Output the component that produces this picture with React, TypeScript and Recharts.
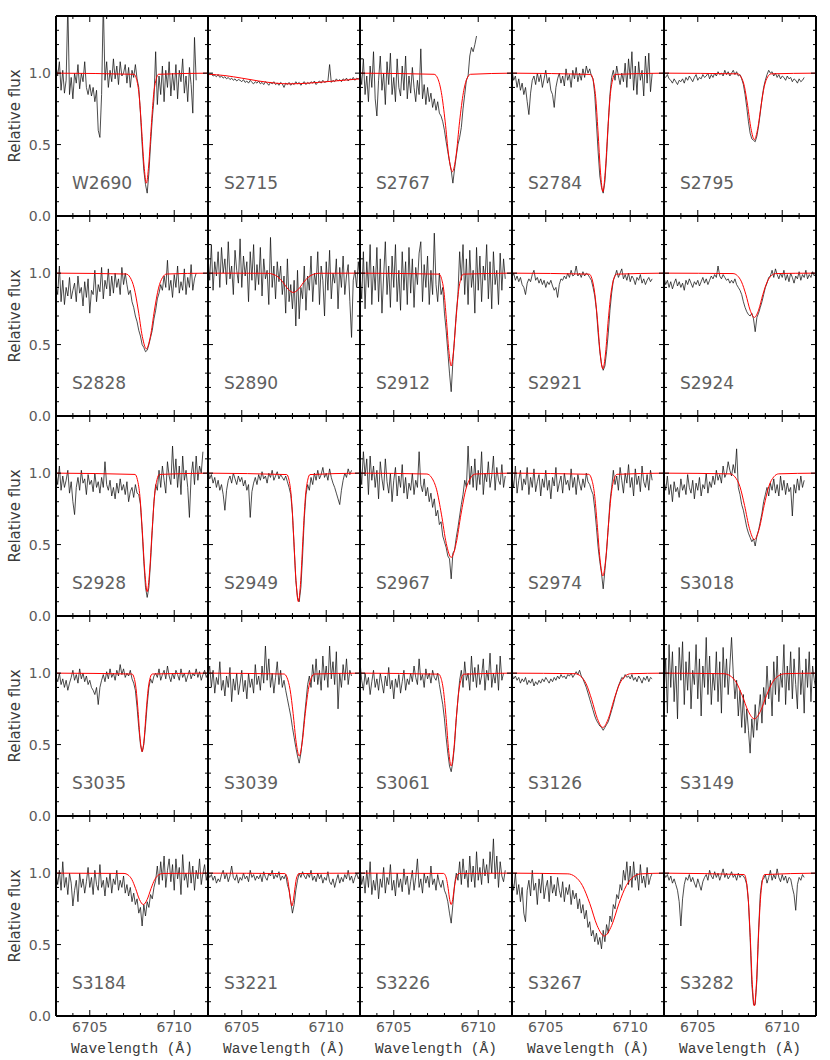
import React from 'react';
import { LineChart, Line, XAxis, YAxis } from 'recharts';

// Wavelength grid of the observed spectra (Å)
const WAVELENGTHS = [
  6703.0, 6703.1, 6703.2, 6703.3, 6703.4, 6703.5, 6703.6, 6703.7, 6703.8, 6703.9,
  6704.0, 6704.1, 6704.2, 6704.3, 6704.4, 6704.5, 6704.6, 6704.7, 6704.8, 6704.9,
  6705.0, 6705.1, 6705.2, 6705.3, 6705.4, 6705.5, 6705.6, 6705.7, 6705.8, 6705.9,
  6706.0, 6706.1, 6706.2, 6706.3, 6706.4, 6706.5, 6706.6, 6706.7, 6706.8, 6706.9,
  6707.0, 6707.1, 6707.2, 6707.3, 6707.4, 6707.5, 6707.6, 6707.7, 6707.8, 6707.9,
  6708.0, 6708.1, 6708.2, 6708.3, 6708.4, 6708.5, 6708.6, 6708.7, 6708.8, 6708.9,
  6709.0, 6709.1, 6709.2, 6709.3, 6709.4, 6709.5, 6709.6, 6709.7, 6709.8, 6709.9,
  6710.0, 6710.1, 6710.2, 6710.3, 6710.4, 6710.5, 6710.6, 6710.7, 6710.8, 6710.9,
  6711.0, 6711.1, 6711.2, 6711.3, 6711.4, 6711.5, 6711.6, 6711.7, 6711.8, 6711.9,
  6712.0,
];

const STAR_NAMES = [
  'W2690', 'S2715', 'S2767', 'S2784', 'S2795',
  'S2828', 'S2890', 'S2912', 'S2921', 'S2924',
  'S2928', 'S2949', 'S2967', 'S2974', 'S3018',
  'S3035', 'S3039', 'S3061', 'S3126', 'S3149',
  'S3184', 'S3221', 'S3226', 'S3267', 'S3282',
];

const X_TICKS = [6704, 6705, 6706, 6707, 6708, 6709, 6710, 6711];
const X_TICK_LABELS = [6705, 6710];
const Y_TICKS = [0, 0.1, 0.2, 0.3, 0.4, 0.5, 0.6, 0.7, 0.8, 0.9, 1.0, 1.1, 1.2, 1.3];
const Y_TICK_LABELS = [0, 0.5, 1.0];

// Observed relative flux (black)
const FLUX_W2690 = [1.05,0.98,1.08,0.88,1.02,0.86,0.95,1.48,0.85,0.97,0.82,1.0,0.93,1.06,0.89,1.0,0.94,1.08,0.9,0.85,0.92,0.84,0.9,0.8,0.88,0.6,0.55,0.85,1.5,0.95,1.08,0.9,1.02,0.94,1.1,0.96,1.05,0.92,1.08,0.98,1.0,1.06,0.93,1.04,0.9,1.02,0.97,1.06,0.96,0.9,0.72,0.5,0.32,0.22,0.16,0.3,0.5,0.68,0.82,1.15,0.78,0.98,0.85,1.05,0.8,1.02,0.9,1.08,0.84,1.0,0.88,1.06,0.82,1.02,0.94,1.1,0.86,0.98,0.8,1.04,0.92,0.72,1.25,0.95];
const FLUX_S2715 = [1.0,0.99,0.995,0.98,0.985,0.975,0.99,0.97,0.98,0.965,0.975,0.96,0.97,0.955,0.965,0.95,0.96,0.945,0.955,0.95,0.94,0.955,0.935,0.945,0.93,0.95,0.935,0.925,0.94,0.93,0.945,0.925,0.935,0.92,0.94,0.93,0.915,0.935,0.925,0.94,0.92,0.93,0.915,0.935,0.925,0.9,0.93,0.92,0.935,0.915,0.93,0.92,0.94,0.925,0.935,0.915,0.93,0.94,0.92,0.935,0.925,0.94,0.93,0.945,0.92,0.935,0.945,0.93,0.95,0.935,0.94,0.945,1.06,0.935,0.95,0.94,0.96,0.945,0.955,0.94,0.96,0.95,0.965,0.945,0.96,0.955,0.97,0.95,0.965,0.96,0.97];
const FLUX_S2767 = [1.02,0.92,1.1,0.85,0.98,0.8,1.05,0.9,1.15,0.82,0.7,0.95,1.12,0.88,1.0,0.78,1.08,0.92,1.14,0.85,0.97,0.8,1.1,0.9,0.84,1.05,0.88,1.12,0.82,0.98,0.86,1.04,0.9,0.8,0.95,0.85,1.17,0.82,0.92,0.78,0.9,0.8,0.86,0.76,0.82,0.74,0.8,0.72,0.7,0.66,0.6,0.52,0.45,0.38,0.32,0.23,0.33,0.42,0.5,0.55,0.62,0.75,0.85,0.95,0.98,1.12,1.18,1.15,1.2,1.26];
const FLUX_S2784 = [1.02,0.95,0.98,0.9,0.96,0.88,0.93,0.85,0.9,0.8,0.71,0.86,0.95,0.98,0.92,1.0,0.94,0.99,0.9,0.96,1.02,0.93,0.97,0.88,0.85,0.76,0.9,0.96,1.0,0.93,0.98,0.91,1.03,0.95,0.99,0.9,1.02,0.96,1.04,0.94,1.0,0.95,1.03,0.97,1.05,1.0,1.03,0.98,0.96,0.85,0.65,0.45,0.28,0.2,0.16,0.24,0.42,0.65,0.85,0.97,1.02,0.95,1.05,0.98,0.92,1.0,0.94,1.07,0.9,1.1,0.96,1.15,0.88,1.05,0.85,1.08,0.95,1.02,0.84,1.12,0.93,1.14,0.87,1.0];
const FLUX_S2795 = [0.98,0.97,0.99,0.96,0.95,0.93,0.96,0.94,0.92,0.95,0.94,0.96,0.93,0.97,0.95,0.98,0.96,0.94,0.97,0.99,0.95,0.97,0.96,0.99,0.97,0.98,1.0,0.96,0.99,0.97,1.0,0.98,1.01,0.99,1.0,0.98,1.02,0.99,1.01,0.98,1.0,1.02,0.99,1.01,0.98,0.99,0.96,0.92,0.85,0.76,0.66,0.58,0.54,0.53,0.52,0.56,0.63,0.72,0.82,0.9,0.95,0.99,1.02,1.0,1.01,0.98,1.0,0.97,0.99,0.96,0.98,0.97,0.95,0.98,0.96,0.97,0.94,0.96,0.95,0.93,0.96,0.94,0.95,0.97];
const FLUX_S2828 = [0.92,0.85,1.05,0.8,0.95,0.78,0.9,0.84,0.97,0.82,0.88,0.93,0.8,0.98,0.86,0.9,0.77,0.94,0.83,0.96,0.72,0.88,0.85,1.02,0.8,0.92,0.87,1.04,0.82,0.95,0.89,1.03,0.84,0.98,0.86,1.0,0.9,0.96,0.85,1.04,0.92,1.0,0.92,0.85,0.88,0.8,0.76,0.7,0.66,0.6,0.56,0.5,0.48,0.45,0.46,0.5,0.55,0.6,0.68,0.74,0.82,0.86,0.92,0.88,0.98,0.9,1.09,0.88,0.95,0.83,0.99,0.9,1.05,0.86,0.94,0.88,1.03,0.85,0.97,0.9,1.06,0.88,0.96,1.0];
const FLUX_S2890 = [1.12,0.95,1.2,0.88,1.08,0.98,1.15,0.9,1.18,1.0,1.1,0.92,1.22,0.96,1.05,0.85,1.16,1.02,0.93,1.24,0.9,1.12,0.98,1.08,0.8,1.15,0.95,1.2,0.88,1.06,0.92,1.18,0.84,1.1,0.96,1.02,0.78,1.25,0.9,1.05,0.82,1.08,0.94,1.05,0.85,0.98,0.72,1.1,0.8,0.92,0.75,0.95,0.63,1.02,0.68,0.9,0.82,1.05,0.74,0.98,0.88,1.12,0.8,1.0,0.92,1.15,0.78,1.05,0.95,0.7,1.08,0.88,1.16,0.82,1.0,0.93,1.1,0.75,1.04,0.9,1.12,0.85,0.98,1.06,0.8,0.55,0.95,1.02,0.9,1.08,0.96];
const FLUX_S2912 = [1.0,0.82,1.15,0.75,1.08,0.9,1.2,0.78,1.05,0.88,1.18,0.8,1.1,0.72,0.98,1.22,0.85,1.05,0.76,1.12,0.9,1.2,0.8,1.02,0.74,1.15,0.88,1.08,0.78,1.18,0.86,1.1,0.76,1.04,0.92,1.14,1.22,0.8,1.06,0.9,1.12,0.78,1.02,0.85,1.28,0.92,0.8,1.0,0.85,0.9,0.72,0.6,0.45,0.3,0.17,0.38,0.55,0.72,0.85,1.15,0.95,1.2,0.85,1.1,0.78,1.16,0.9,1.02,0.72,1.18,0.88,1.12,0.8,1.05,0.95,1.2,0.82,1.08,0.75,1.15,0.92,1.02,0.78,1.14,0.88,1.1,0.96];
const FLUX_S2921 = [0.97,1.0,0.95,0.98,0.94,0.97,0.92,0.9,0.85,0.93,0.96,0.94,0.99,1.02,0.95,0.97,0.93,0.96,0.92,0.95,0.9,0.94,0.92,0.95,0.91,0.88,0.9,0.83,0.92,0.96,0.95,0.98,0.96,1.0,0.97,1.02,0.98,0.99,1.05,0.98,1.0,0.97,1.01,0.98,1.0,0.99,0.97,0.95,0.9,0.84,0.74,0.58,0.45,0.36,0.32,0.35,0.45,0.58,0.74,0.86,0.95,0.98,1.02,0.97,1.0,1.03,0.96,0.99,0.95,1.0,0.94,0.98,0.96,0.92,0.97,0.95,0.99,0.93,0.96,0.92,0.95,0.97,0.94,0.96];
const FLUX_S2924 = [0.97,0.92,0.95,0.9,0.94,0.89,0.93,0.96,0.91,0.94,0.9,0.93,0.88,0.95,0.92,0.96,0.93,0.9,0.94,0.92,0.95,0.91,0.94,0.97,0.93,0.96,0.92,0.95,0.98,0.96,0.99,0.97,1.05,0.98,0.96,0.99,0.97,0.95,0.96,0.93,0.95,0.93,0.96,0.92,0.9,0.88,0.85,0.8,0.76,0.73,0.71,0.7,0.72,0.68,0.59,0.69,0.72,0.76,0.8,0.85,0.9,0.93,0.97,0.98,1.02,0.97,1.03,0.99,0.96,1.0,0.97,1.02,0.95,0.99,0.94,1.0,0.97,0.93,0.98,0.96,1.01,0.95,0.99,0.97,1.02,0.96,0.99,0.97,1.01,0.98,1.0];
const FLUX_S2928 = [1.0,0.92,1.05,0.88,0.98,0.9,0.95,1.02,0.86,0.94,0.8,0.71,0.9,0.97,0.88,1.02,0.93,0.96,0.85,0.99,0.92,0.95,0.87,1.0,0.9,0.94,0.86,0.97,0.9,1.08,0.92,0.88,0.95,0.84,0.9,0.82,0.93,0.86,0.96,0.88,0.92,0.85,0.94,0.8,0.87,0.9,0.83,0.92,0.86,0.85,0.78,0.6,0.38,0.2,0.13,0.2,0.38,0.6,0.8,0.92,0.88,1.02,0.9,1.05,0.95,0.86,1.08,0.98,0.92,1.19,0.96,1.1,0.9,1.05,0.85,1.12,0.95,1.02,0.9,0.69,0.98,1.08,0.92,1.12,0.95,1.05,1.0,1.15];
const FLUX_S2949 = [1.02,0.96,0.99,0.93,0.97,0.9,0.95,0.88,0.92,0.85,0.74,0.88,0.95,0.98,0.93,1.0,0.96,0.92,0.98,0.94,0.97,0.91,0.95,0.88,0.92,0.69,0.87,0.93,0.97,0.92,0.99,0.95,1.01,0.96,0.98,0.93,1.0,0.97,1.02,0.95,0.98,1.01,0.96,0.99,0.97,0.95,0.98,0.94,0.9,0.85,0.72,0.48,0.25,0.13,0.1,0.2,0.42,0.68,0.85,0.92,0.88,0.97,0.92,1.0,0.95,1.02,0.96,0.99,1.04,0.97,1.0,0.95,1.03,0.97,0.93,0.9,0.86,0.82,0.78,0.88,0.95,1.0,0.97,1.03,0.99,1.02];
const FLUX_S2967 = [1.08,0.92,1.15,0.98,1.1,0.85,1.12,0.95,1.05,0.9,1.02,0.82,1.08,0.96,0.88,1.1,0.94,0.86,1.0,0.8,0.95,1.04,0.84,0.98,0.9,1.06,0.86,0.97,0.82,0.93,0.88,1.0,0.85,0.95,0.9,1.15,0.92,0.87,0.96,0.84,0.9,0.8,0.86,0.76,0.82,0.7,0.74,0.64,0.66,0.56,0.52,0.48,0.42,0.4,0.26,0.44,0.46,0.55,0.62,0.7,0.78,0.85,0.95,0.9,1.19,0.92,1.05,0.9,1.1,0.88,1.02,0.92,1.15,0.85,1.0,0.94,1.08,0.9,0.98,1.12,0.88,1.04,0.95,0.92,1.06,0.9,0.98];
const FLUX_S2974 = [0.98,0.9,1.05,0.86,0.95,1.02,0.88,0.96,0.92,1.04,0.85,0.97,0.9,1.03,0.87,0.94,0.99,0.84,0.96,0.9,1.02,0.88,0.95,0.82,0.97,0.91,1.04,0.87,0.93,0.98,0.86,1.0,0.92,0.95,0.88,1.03,0.9,0.97,0.85,0.99,0.93,0.88,0.96,0.9,1.0,0.94,0.92,0.88,0.85,0.75,0.62,0.48,0.38,0.3,0.19,0.32,0.45,0.62,0.8,0.9,1.02,0.92,0.98,0.88,1.04,0.95,0.86,1.0,0.93,1.06,0.9,0.97,0.84,1.03,0.92,0.98,0.87,1.05,0.94,0.9,0.99,0.88,1.02,0.95];
const FLUX_S3018 = [0.95,0.88,0.98,0.85,0.92,0.8,0.94,0.87,0.9,0.83,0.96,0.88,0.92,0.85,0.99,0.9,0.86,0.95,0.82,0.93,0.88,0.97,0.84,0.92,0.89,1.0,0.86,0.94,0.9,0.98,0.92,1.02,0.95,0.99,0.93,1.05,0.97,1.0,1.08,1.02,0.98,1.06,1.0,1.17,0.9,0.85,0.78,0.74,0.68,0.62,0.58,0.55,0.52,0.54,0.49,0.56,0.6,0.66,0.72,0.8,0.85,0.9,0.84,0.93,0.88,0.96,0.86,0.92,0.84,0.98,0.88,0.95,0.85,0.93,0.87,0.9,0.7,0.92,0.86,0.96,0.88,0.98,0.9,0.95];
const FLUX_S3035 = [0.98,0.94,1.0,0.92,0.96,0.9,0.95,0.88,0.93,0.97,1.02,0.95,0.99,0.93,1.03,0.96,1.0,0.94,0.98,0.92,0.95,0.9,0.88,0.85,0.9,0.78,0.9,0.95,0.99,0.94,1.01,0.96,1.03,0.97,1.0,0.95,1.02,0.98,1.06,0.99,1.03,0.97,1.0,0.98,1.02,0.96,0.93,0.88,0.76,0.62,0.5,0.45,0.5,0.63,0.78,0.9,0.96,0.93,0.98,1.0,0.97,1.03,0.95,0.99,1.02,0.96,1.05,0.98,0.94,1.0,0.96,1.02,0.99,0.95,1.03,0.97,1.0,0.94,0.98,1.02,0.96,1.0,0.98,1.03,0.97,1.01,0.95,0.99,1.02,0.97,1.0];
const FLUX_S3039 = [0.98,1.05,0.9,1.02,0.86,0.97,0.92,1.08,0.88,0.95,0.84,0.98,0.9,1.04,0.8,0.96,0.88,1.0,0.85,0.93,1.02,0.87,0.95,0.82,1.0,0.9,0.96,0.86,1.06,0.92,0.98,0.88,1.05,0.93,1.19,0.95,1.1,0.9,1.0,0.86,0.97,1.08,0.92,1.02,0.9,0.95,0.88,0.82,0.76,0.7,0.62,0.55,0.48,0.42,0.37,0.44,0.55,0.68,0.8,0.92,0.98,0.9,1.06,0.94,1.1,0.92,1.02,0.88,1.12,0.95,1.05,0.9,1.19,0.96,1.08,0.92,1.15,0.75,1.0,0.9,1.06,0.95,1.1,0.92,1.02,0.98];
const FLUX_S3061 = [1.08,0.95,0.88,1.0,0.92,0.97,0.85,0.94,1.02,0.9,0.96,0.88,1.0,0.93,0.86,0.98,0.91,1.04,0.89,0.95,0.82,0.96,0.9,0.99,0.86,0.94,1.02,0.88,0.96,0.92,1.0,0.94,1.05,0.97,0.92,1.1,0.95,0.99,0.9,1.03,0.96,1.0,0.93,1.02,0.97,0.95,1.0,0.92,0.85,0.78,0.68,0.55,0.44,0.35,0.31,0.38,0.5,0.68,0.82,0.95,1.02,0.9,1.08,0.95,1.0,0.88,1.12,0.94,1.04,0.9,1.06,0.92,0.98,1.1,0.88,1.02,0.95,1.14,0.9,1.0,0.93,1.06,0.88,1.12,0.95,1.0];
const FLUX_S3126 = [0.99,0.96,0.98,0.95,0.97,0.93,0.96,0.94,0.97,0.92,0.95,0.93,0.96,0.91,0.94,0.92,0.95,0.93,0.96,0.94,0.97,0.95,0.93,0.96,0.94,0.97,0.95,0.98,0.96,0.99,0.97,0.98,0.96,0.99,0.98,1.0,0.97,0.99,1.01,0.99,1.02,0.98,0.96,0.93,0.9,0.86,0.82,0.78,0.74,0.7,0.67,0.65,0.63,0.62,0.6,0.62,0.64,0.66,0.7,0.74,0.78,0.83,0.87,0.91,0.94,0.97,0.96,0.99,0.97,0.98,0.96,0.99,0.95,0.97,0.94,0.98,0.96,0.93,0.97,0.95,0.98,0.94,0.97,0.96];
const FLUX_S3149 = [0.85,1.1,0.72,1.2,0.9,1.15,0.8,1.05,0.68,1.18,0.95,1.22,0.78,1.08,0.88,1.15,0.75,1.02,0.92,1.2,0.82,1.1,0.7,1.05,0.9,1.25,0.85,1.12,0.78,1.0,0.88,1.15,0.8,1.08,0.72,1.18,0.9,1.1,0.85,1.05,1.25,1.0,0.82,0.95,0.7,0.88,0.62,0.85,0.58,0.75,0.6,0.44,0.68,0.55,0.78,0.6,0.72,0.85,0.65,0.9,0.78,1.05,0.82,0.95,0.7,1.08,0.85,1.12,0.8,1.0,0.9,1.2,0.78,1.05,0.88,1.15,0.82,1.1,0.92,0.75,1.18,0.85,1.02,0.72,1.1,0.9,1.15,0.8,1.05,0.95,0.88];
const FLUX_S3184 = [1.0,0.92,1.02,0.88,1.08,0.9,0.97,0.85,1.0,0.93,0.77,0.88,0.95,0.8,1.0,0.9,0.96,0.86,0.94,1.04,0.9,0.97,0.85,1.02,0.92,0.88,1.06,0.9,0.95,0.84,0.97,0.9,1.0,0.86,0.96,0.92,1.02,0.88,0.95,0.9,0.98,0.86,0.92,0.84,0.9,0.8,0.86,0.78,0.82,0.72,0.76,0.63,0.78,0.7,0.8,0.76,0.85,0.82,0.9,0.95,1.05,0.92,1.08,0.95,1.12,0.9,1.02,1.1,0.94,1.06,0.88,1.1,0.96,1.04,0.85,1.13,0.95,1.0,0.9,1.08,0.93,1.05,0.88,1.02,0.96,1.1,0.92,1.0,1.06,0.95,1.02];
const FLUX_S3221 = [1.0,0.97,0.99,0.95,0.98,0.93,0.96,0.94,0.99,1.02,0.96,1.0,0.94,0.98,1.05,0.97,0.95,0.99,0.93,0.97,0.95,1.0,0.96,0.98,0.94,1.02,0.97,0.99,0.95,0.98,0.96,0.99,0.94,1.01,0.97,0.95,1.0,0.98,1.02,0.96,0.99,0.97,1.01,0.95,0.98,0.96,0.99,0.92,0.88,0.8,0.72,0.78,0.88,0.95,1.0,0.97,1.01,0.98,0.96,1.0,0.97,1.02,0.95,0.98,0.94,1.0,0.96,0.99,0.93,0.97,0.95,1.01,0.94,0.92,0.96,0.9,0.95,0.99,0.93,0.97,0.94,0.99,0.96,1.02,0.95,0.98,0.93,0.97,1.0,0.96,0.99];
const FLUX_S3226 = [1.05,0.92,0.98,0.86,1.02,0.9,1.08,0.85,0.95,0.88,1.0,0.82,0.96,0.9,1.04,0.86,0.97,0.92,1.06,0.88,0.95,0.84,1.0,0.9,0.96,0.87,1.03,0.92,0.98,0.85,0.94,1.02,0.88,0.97,1.1,0.9,0.96,0.86,1.0,0.93,0.98,0.9,1.05,0.92,0.96,0.88,0.99,0.93,0.9,0.95,0.88,0.85,0.8,0.72,0.65,0.78,0.92,1.0,0.95,1.08,0.92,1.1,0.96,1.02,0.9,1.12,0.94,1.05,0.9,1.15,0.95,1.04,0.92,1.1,0.98,1.06,0.93,1.15,1.0,1.24,0.96,1.12,0.9,1.08,0.98,0.94,1.02];
const FLUX_S3267 = [0.95,0.88,1.0,0.85,0.92,0.8,0.9,0.72,0.66,0.88,0.95,0.84,1.02,0.88,0.93,0.78,0.96,0.86,1.0,0.82,0.9,0.95,0.8,0.98,0.86,0.92,0.84,0.97,0.88,0.83,0.94,0.8,0.9,0.85,0.92,0.78,0.88,0.82,0.86,0.75,0.82,0.72,0.78,0.68,0.74,0.62,0.66,0.56,0.6,0.52,0.58,0.5,0.55,0.47,0.6,0.52,0.64,0.58,0.7,0.66,0.78,0.75,0.85,0.82,0.92,0.88,1.02,0.95,1.08,0.92,1.05,0.9,1.08,0.95,1.0,0.88,1.06,0.93,0.98,0.9,1.04,0.92,0.97,1.0];
const FLUX_S3282 = [1.0,0.97,0.99,0.95,0.98,0.93,0.96,0.92,0.88,0.8,0.63,0.82,0.92,0.97,0.95,0.99,0.94,0.97,0.93,0.9,0.96,0.92,0.88,0.94,0.97,0.99,0.95,1.02,0.98,0.96,1.01,0.97,1.0,0.95,0.99,1.03,0.97,1.0,0.96,0.98,1.01,0.97,0.99,0.95,1.0,0.97,0.99,0.98,0.96,0.92,0.8,0.55,0.22,0.08,0.08,0.25,0.6,0.85,0.95,0.96,0.99,0.93,0.97,1.02,0.95,0.99,0.96,1.03,0.97,0.94,0.99,0.95,0.98,0.93,0.97,0.96,0.9,0.85,0.74,0.92,0.97,0.95,0.99,0.97];

// Fitted profiles (red), [wavelength, flux]
const FIT_W2690 = [[6703,1],[6707.63,0.992],[6707.77,0.957],[6707.92,0.848],[6708.06,0.625],[6708.21,0.357],[6708.35,0.23],[6708.49,0.357],[6708.64,0.625],[6708.78,0.848],[6708.93,0.957],[6709.07,0.992],[6712,1]];
const FIT_S2715 = [[6703,0.993],[6704,0.983],[6705,0.965],[6706,0.945],[6707,0.93],[6707.8,0.925],[6708.5,0.927],[6709.5,0.935],[6710.5,0.945],[6711.3,0.953],[6712,0.96]];
const FIT_S2767 = [[6703,1],[6707.39,0.992],[6707.61,0.961],[6707.82,0.863],[6708.04,0.664],[6708.25,0.424],[6708.47,0.31],[6708.69,0.424],[6708.9,0.664],[6709.12,0.863],[6709.33,0.961],[6709.55,0.992],[6712,1]];
const FIT_S2784 = [[6703,1],[6707.66,0.991],[6707.8,0.954],[6707.95,0.836],[6708.09,0.596],[6708.24,0.307],[6708.38,0.17],[6708.52,0.307],[6708.67,0.596],[6708.81,0.836],[6708.96,0.954],[6709.1,0.991],[6712,1]];
const FIT_S2795 = [[6703,1],[6707.36,0.995],[6707.56,0.974],[6707.76,0.908],[6707.95,0.774],[6708.15,0.612],[6708.35,0.535],[6708.55,0.612],[6708.75,0.774],[6708.94,0.908],[6709.14,0.974],[6709.34,0.995],[6712,1]];
const FIT_S2828 = [[6703,1],[6707.15,0.994],[6707.39,0.97],[6707.63,0.895],[6707.87,0.742],[6708.11,0.557],[6708.35,0.47],[6708.59,0.557],[6708.83,0.742],[6709.07,0.895],[6709.31,0.97],[6709.55,0.994],[6712,1]];
const FIT_S2890 = [[6703,1],[6706.55,0.999],[6706.85,0.992],[6707.15,0.973],[6707.45,0.934],[6707.75,0.887],[6708.05,0.865],[6708.35,0.887],[6708.65,0.934],[6708.95,0.973],[6709.25,0.992],[6709.55,0.999],[6712,1]];
const FIT_S2912 = [[6703,1],[6707.68,0.993],[6707.82,0.964],[6707.97,0.871],[6708.11,0.683],[6708.26,0.457],[6708.4,0.35],[6708.54,0.457],[6708.69,0.683],[6708.83,0.871],[6708.98,0.964],[6709.12,0.993],[6712,1]];
const FIT_S2921 = [[6703,1],[6707.57,0.993],[6707.73,0.962],[6707.89,0.867],[6708.06,0.674],[6708.22,0.441],[6708.38,0.33],[6708.54,0.441],[6708.7,0.674],[6708.87,0.867],[6709.03,0.962],[6709.19,0.993],[6712,1]];
const FIT_S2924 = [[6703,1],[6707.09,0.997],[6707.34,0.983],[6707.59,0.939],[6707.85,0.849],[6708.1,0.741],[6708.35,0.69],[6708.6,0.741],[6708.85,0.849],[6709.11,0.939],[6709.36,0.983],[6709.61,0.997],[6712,1]];
const FIT_S2928 = [[6703,1],[6707.68,0.991],[6707.82,0.954],[6707.97,0.836],[6708.11,0.596],[6708.26,0.307],[6708.4,0.17],[6708.54,0.307],[6708.69,0.596],[6708.83,0.836],[6708.98,0.954],[6709.12,0.991],[6712,1]];
const FIT_S2949 = [[6703,1],[6707.66,0.99],[6707.8,0.95],[6707.94,0.822],[6708.07,0.562],[6708.21,0.248],[6708.35,0.1],[6708.49,0.248],[6708.63,0.562],[6708.76,0.822],[6708.9,0.95],[6709.04,0.99],[6712,1]];
const FIT_S2967 = [[6703,1],[6706.96,0.994],[6707.25,0.967],[6707.54,0.883],[6707.82,0.713],[6708.11,0.507],[6708.4,0.41],[6708.69,0.507],[6708.98,0.713],[6709.26,0.883],[6709.55,0.967],[6709.84,0.994],[6712,1]];
const FIT_S2974 = [[6703,1],[6707.54,0.992],[6707.71,0.96],[6707.88,0.857],[6708.04,0.649],[6708.21,0.399],[6708.38,0.28],[6708.55,0.399],[6708.72,0.649],[6708.88,0.857],[6709.05,0.96],[6709.22,0.992],[6712,1]];
const FIT_S3018 = [[6703,1],[6706.91,0.995],[6707.2,0.974],[6707.49,0.908],[6707.77,0.774],[6708.06,0.612],[6708.35,0.535],[6708.64,0.612],[6708.93,0.774],[6709.21,0.908],[6709.5,0.974],[6709.79,0.995],[6712,1]];
const FIT_S3035 = [[6703,1],[6707.5,0.994],[6707.62,0.969],[6707.74,0.891],[6707.86,0.732],[6707.98,0.541],[6708.1,0.45],[6708.22,0.541],[6708.34,0.732],[6708.46,0.891],[6708.58,0.969],[6708.7,0.994],[6712,1]];
const FIT_S3039 = [[6703,1],[6707.5,0.994],[6707.68,0.968],[6707.86,0.885],[6708.04,0.718],[6708.22,0.516],[6708.4,0.42],[6708.58,0.516],[6708.76,0.718],[6708.94,0.885],[6709.12,0.968],[6709.3,0.994],[6712,1]];
const FIT_S3061 = [[6703,1],[6707.65,0.993],[6707.8,0.964],[6707.95,0.871],[6708.1,0.683],[6708.25,0.457],[6708.4,0.35],[6708.55,0.457],[6708.7,0.683],[6708.85,0.871],[6709.0,0.964],[6709.15,0.993],[6712,1]];
const FIT_S3126 = [[6703,1],[6706.73,0.996],[6707.06,0.979],[6707.39,0.925],[6707.72,0.815],[6708.05,0.683],[6708.38,0.62],[6708.71,0.683],[6709.04,0.815],[6709.37,0.925],[6709.7,0.979],[6710.03,0.996],[6712,1]];
const FIT_S3149 = [[6703,1],[6706.55,0.996],[6706.91,0.982],[6707.27,0.937],[6707.63,0.844],[6707.99,0.733],[6708.35,0.68],[6708.71,0.733],[6709.07,0.844],[6709.43,0.937],[6709.79,0.982],[6710.15,0.996],[6712,1]];
const FIT_S3184 = [[6703,1],[6707.03,0.998],[6707.26,0.988],[6707.49,0.956],[6707.71,0.893],[6707.94,0.816],[6708.17,0.78],[6708.4,0.816],[6708.63,0.893],[6708.85,0.956],[6709.08,0.988],[6709.31,0.998],[6712,1]];
const FIT_S3221 = [[6703,1],[6707.55,0.997],[6707.63,0.987],[6707.72,0.954],[6707.8,0.888],[6707.89,0.808],[6707.97,0.77],[6708.05,0.808],[6708.14,0.888],[6708.22,0.954],[6708.31,0.987],[6708.39,0.997],[6712,1]];
const FIT_S3226 = [[6703,1],[6707.95,0.998],[6708.04,0.988],[6708.13,0.956],[6708.22,0.893],[6708.31,0.816],[6708.4,0.78],[6708.49,0.816],[6708.58,0.893],[6708.67,0.956],[6708.76,0.988],[6708.85,0.998],[6712,1]];
const FIT_S3267 = [[6703,1],[6706.31,0.995],[6706.74,0.975],[6707.17,0.913],[6707.61,0.786],[6708.04,0.633],[6708.47,0.56],[6708.9,0.633],[6709.33,0.786],[6709.77,0.913],[6710.2,0.975],[6710.63,0.995],[6712,1]];
const FIT_S3282 = [[6703,1],[6707.75,0.99],[6707.87,0.948],[6707.99,0.816],[6708.11,0.547],[6708.23,0.223],[6708.35,0.07],[6708.47,0.223],[6708.59,0.547],[6708.71,0.816],[6708.83,0.948],[6708.95,0.99],[6712,1]];

const SPECTRA = [
  FLUX_W2690, FLUX_S2715, FLUX_S2767, FLUX_S2784, FLUX_S2795,
  FLUX_S2828, FLUX_S2890, FLUX_S2912, FLUX_S2921, FLUX_S2924,
  FLUX_S2928, FLUX_S2949, FLUX_S2967, FLUX_S2974, FLUX_S3018,
  FLUX_S3035, FLUX_S3039, FLUX_S3061, FLUX_S3126, FLUX_S3149,
  FLUX_S3184, FLUX_S3221, FLUX_S3226, FLUX_S3267, FLUX_S3282,
];
const FITS = [
  FIT_W2690, FIT_S2715, FIT_S2767, FIT_S2784, FIT_S2795,
  FIT_S2828, FIT_S2890, FIT_S2912, FIT_S2921, FIT_S2924,
  FIT_S2928, FIT_S2949, FIT_S2967, FIT_S2974, FIT_S3018,
  FIT_S3035, FIT_S3039, FIT_S3061, FIT_S3126, FIT_S3149,
  FIT_S3184, FIT_S3221, FIT_S3226, FIT_S3267, FIT_S3282,
];

// Layout
const PLOT_W = 152;
const PLOT_H = 200;
const GRID_LEFT = 56;
const GRID_TOP = 16;
const ML = 60, MR = 4, MT = 4, MB = 40;
const CHART_W = ML + 1 + PLOT_W + 1 + MR;
const CHART_H = MT + 1 + PLOT_H + 1 + MB;
const FONT = 'DejaVu Sans';
const TEXT_FILL = '#5a5a5a';

const isMajorY = (v: number) => Math.abs(v * 2 - Math.round(v * 2)) < 1e-6;

const bottomTick = (showLabel: boolean) => (props: any) => {
  const { x, y, payload } = props;
  const v = payload.value;
  const major = X_TICK_LABELS.includes(v);
  return (
    <g>
      <line x1={x} y1={y} x2={x} y2={y - (major ? 6 : 3)} stroke="#000" strokeWidth={1} />
      {showLabel && major ? (
        <text x={x} y={y + 16} textAnchor="middle" fontSize={14} fontFamily={FONT} fill={TEXT_FILL}>
          {v}
        </text>
      ) : null}
    </g>
  );
};

const topTick = (props: any) => {
  const { x, y, payload } = props;
  const major = X_TICK_LABELS.includes(payload.value);
  return <line x1={x} y1={y} x2={x} y2={y + (major ? 6 : 3)} stroke="#000" strokeWidth={1} />;
};

const leftTick = (showLabel: boolean) => (props: any) => {
  const { x, y, payload } = props;
  const v = payload.value;
  const major = isMajorY(v);
  return (
    <g>
      <line x1={x} y1={y} x2={x + (major ? 5 : 3)} y2={y} stroke="#000" strokeWidth={1} />
      {showLabel && Y_TICK_LABELS.some((t) => Math.abs(t - v) < 1e-6) ? (
        <text x={x - 5} y={y + 5} textAnchor="end" fontSize={14} fontFamily={FONT} fill={TEXT_FILL}>
          {v.toFixed(1)}
        </text>
      ) : null}
    </g>
  );
};

const rightTick = (props: any) => {
  const { x, y, payload } = props;
  const major = isMajorY(payload.value);
  return <line x1={x} y1={y} x2={x - (major ? 5 : 3)} y2={y} stroke="#000" strokeWidth={1} />;
};

const axisLine = { stroke: '#000', strokeWidth: 2 };

function Panel({ idx }: { idx: number }) {
  const row = Math.floor(idx / 5);
  const col = idx % 5;
  const plotLeft = GRID_LEFT + col * PLOT_W;
  const plotTop = GRID_TOP + row * PLOT_H;
  const obs = SPECTRA[idx].map((f, i) => ({ x: WAVELENGTHS[i], y: f }));
  const fit = FITS[idx].map(([x, y]) => ({ x, y }));
  return (
    <div style={{ position: 'absolute', left: plotLeft - ML - 1, top: plotTop - MT - 1 }}>
      <LineChart width={CHART_W} height={CHART_H} margin={{ top: MT, right: MR, bottom: MB, left: ML }}>
        <XAxis
          xAxisId="b" dataKey="x" type="number" domain={[6703, 6712]} allowDataOverflow
          ticks={X_TICKS} interval={0} height={1} tickSize={0} tickMargin={0}
          tickLine={false} axisLine={axisLine} tick={bottomTick(row === 4)}
        />
        <XAxis
          xAxisId="t" orientation="top" dataKey="x" type="number" domain={[6703, 6712]} allowDataOverflow
          ticks={X_TICKS} interval={0} height={1} tickSize={0} tickMargin={0}
          tickLine={false} axisLine={axisLine} tick={topTick}
        />
        <YAxis
          yAxisId="l" type="number" domain={[0, 1.4]} allowDataOverflow
          ticks={Y_TICKS} interval={0} width={1} tickSize={0} tickMargin={0}
          tickLine={false} axisLine={axisLine} tick={leftTick(col === 0)}
        />
        <YAxis
          yAxisId="r" orientation="right" type="number" domain={[0, 1.4]} allowDataOverflow
          ticks={Y_TICKS} interval={0} width={1} tickSize={0} tickMargin={0}
          tickLine={false} axisLine={axisLine} tick={rightTick}
        />
        <Line
          xAxisId="b" yAxisId="l" data={obs} dataKey="y" type="linear"
          stroke="#111" strokeWidth={0.75} dot={false} isAnimationActive={false}
        />
        <Line
          xAxisId="t" yAxisId="r" data={fit} dataKey="y" type="monotone"
          stroke="#ff0000" strokeWidth={1} dot={false} isAnimationActive={false}
        />
      </LineChart>
    </div>
  );
}

export default function App() {
  return (
    <div style={{ position: 'absolute', left: 0, top: 0, width: 830, height: 1060, background: '#fff', overflow: 'hidden' }}>
      {STAR_NAMES.map((_, i) => (
        <Panel key={i} idx={i} />
      ))}
      <svg width={830} height={1060} style={{ position: 'absolute', left: 0, top: 0, pointerEvents: 'none' }}>
        {STAR_NAMES.map((name, i) => {
          const row = Math.floor(i / 5);
          const col = i % 5;
          return (
            <text key={name} x={GRID_LEFT + col * PLOT_W + 16} y={GRID_TOP + row * PLOT_H + 173}
              fontSize={17} fontFamily={FONT} fill="#606060">
              {name}
            </text>
          );
        })}
        {[0, 1, 2, 3, 4].map((row) => {
          const cy = GRID_TOP + row * PLOT_H + PLOT_H / 2;
          return (
            <text key={'yl' + row} x={19.5} y={cy} transform={`rotate(-90 19.5 ${cy})`}
              textAnchor="middle" fontSize={15} fontFamily={FONT} fill="#3a3a3a">
              Relative flux
            </text>
          );
        })}
        {[0, 1, 2, 3, 4].map((col) => (
          <text key={'xl' + col} x={GRID_LEFT + col * PLOT_W + PLOT_W / 2} y={GRID_TOP + 5 * PLOT_H + 37}
            textAnchor="middle" fontSize={14.5} fontFamily="Liberation Mono" fill="#3a3a3a">
            Wavelength (Å)
          </text>
        ))}
      </svg>
    </div>
  );
}
